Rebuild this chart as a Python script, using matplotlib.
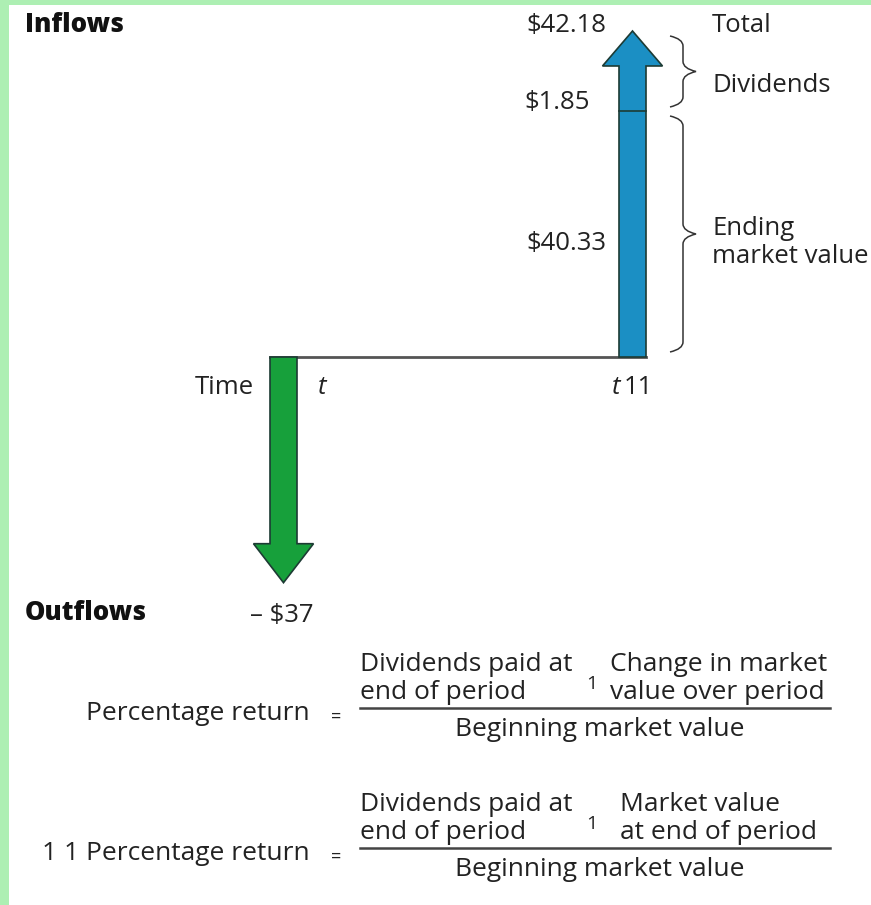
import matplotlib
matplotlib.use('Agg')
import matplotlib.pyplot as plt
from matplotlib.patches import Polygon, Rectangle, PathPatch
from matplotlib.path import Path

plt.rcParams['font.family'] = ['Open Sans', 'DejaVu Sans']

# values shown in the diagram
total_label = '$42.18'
inflow_names = ['Dividends', 'Ending\nmarket value']
inflow_labels = ['$1.85', '$40.33']
inflow_values = [1.85, 40.33]
outflow_value = -37
outflow_label = '– $37'
time_labels = ['t', 't11']

# layout (pixel coordinates, y downward)
W, H = 871, 905
px_per_dollar = 6.1
y0 = 357
x_out, x_in = 283.5, 632.5
shaft_hw, head_hw = 13.5, 30
div_seg = 80     # dividends segment is drawn exaggerated
blue = '#1b8fc4'
green = '#17a03b'
frame = '#adefb3'

fig = plt.figure(figsize=(W / 100, H / 100), dpi=100)
fig.patch.set_facecolor(frame)
ax = fig.add_axes([0, 0, 1, 1])
ax.set_xlim(0, W)
ax.set_ylim(H, 0)
ax.axis('off')
ax.add_patch(Rectangle((9, 5), W - 9, H - 5, facecolor='white', edgecolor='none'))

# time line
ax.plot([x_out - shaft_hw, x_in + shaft_hw], [y0, y0], color='#555555', lw=2, zorder=1)


def arrow(xc, ybase, ytip, head_len, color):
    sgn = 1 if ytip > ybase else -1
    yh = ytip - sgn * head_len
    pts = [(xc - shaft_hw, ybase), (xc - shaft_hw, yh), (xc - head_hw, yh), (xc, ytip),
           (xc + head_hw, yh), (xc + shaft_hw, yh), (xc + shaft_hw, ybase)]
    ax.add_patch(Polygon(pts, closed=True, facecolor=color, edgecolor='#1d3b34', lw=1.2, zorder=3))


# outflow arrow (green, down)
y_out_tip = y0 - outflow_value * px_per_dollar
arrow(x_out, y0, y_out_tip, 39, green)

# inflow arrow (blue, up)
y_div = y0 - inflow_values[1] * px_per_dollar
y_in_tip = y_div - div_seg
arrow(x_in, y0, y_in_tip, 35, blue)
ax.plot([x_in - shaft_hw, x_in + shaft_hw], [y_div, y_div], color='#1d3b34', lw=1.2, zorder=4)


def brace(x, y1, y2, w, q=10):
    ym = (y1 + y2) / 2
    xm = x + w / 2
    verts = [(x, y1), (xm, y1 + 3), (xm, y1 + q),
             (xm, ym - q),
             (xm, ym - 3), (x + w, ym),
             (xm, ym + 3), (xm, ym + q),
             (xm, y2 - q),
             (xm, y2 - 3), (x, y2)]
    codes = [Path.MOVETO, Path.CURVE3, Path.CURVE3, Path.LINETO,
             Path.CURVE3, Path.CURVE3, Path.CURVE3, Path.CURVE3,
             Path.LINETO, Path.CURVE3, Path.CURVE3]
    ax.add_patch(PathPatch(Path(verts, codes), facecolor='none', edgecolor='#333333', lw=1.1))


brace(670, y_in_tip + 5, y_div - 4, 26)
brace(670, y_div + 5, y0 - 5, 26)

fs = 18.5
txt = dict(fontsize=fs, color='#222222', va='baseline')
bold = dict(fontsize=18.5, fontweight='extra bold', va='baseline', color='#111111')
ax.text(25, 32, 'Inflows', **bold)
ax.text(25, 620, 'Outflows', **bold)
ax.text(606, 32, total_label, ha='right', **txt)
ax.text(712, 32, 'Total', ha='left', **txt)
ax.text(590, 109, inflow_labels[0], ha='right', **txt)
ax.text(606, 250, inflow_labels[1], ha='right', **txt)
ax.text(712, 92, inflow_names[0], ha='left', **txt)
ax.text(712, 235, 'Ending', ha='left', **txt)
ax.text(712, 263, 'market value', ha='left', **txt)
ax.text(254, 394, 'Time', ha='right', **txt)
ax.text(318, 394, time_labels[0], ha='left', style='italic', **txt)
ax.text(612, 394, time_labels[1][0], ha='left', style='italic', **txt)
ax.text(624, 394, time_labels[1][1:], ha='left', **txt)
ax.text(250, 622, outflow_label, ha='left', **txt)

# formulas
ffs = 19
ft = dict(fontsize=ffs, color='#222222', va='baseline')
rows = [
    (0, 'Percentage return', 'Change in market', 'value over period'),
    (140, '1 1 Percentage return', 'Market value', 'at end of period'),
]
for dy, lhs, r1, r2 in rows:
    ax.text(310, 720 + dy, lhs, ha='right', **ft)
    ax.text(336, 722 + dy, '=', ha='center', fontsize=13, color='#222222', va='baseline')
    ax.text(360, 671 + dy, 'Dividends paid at', ha='left', **ft)
    ax.text(360, 699 + dy, 'end of period', ha='left', **ft)
    ax.text(592, 689 + dy, '1', ha='center', fontsize=14, color='#222222', va='baseline')
    ax.text(610 if dy == 0 else 620, 671 + dy, r1, ha='left', **ft)
    ax.text(610 if dy == 0 else 620, 699 + dy, r2, ha='left', **ft)
    ax.plot([360, 830], [708 + dy, 708 + dy], color='#444444', lw=1.8)
    ax.text(600, 736 + dy, 'Beginning market value', ha='center', **ft)

plt.savefig('out.png', dpi=100, facecolor=fig.get_facecolor())
